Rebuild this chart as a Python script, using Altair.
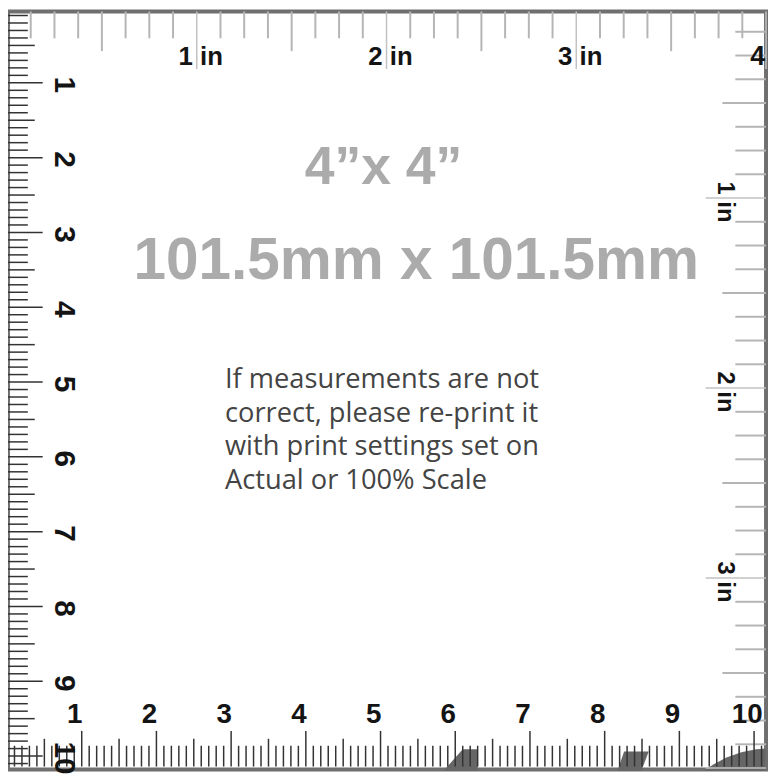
import altair as alt
import pandas as pd

MM_PER_INCH = 25.4

# ---- data -------------------------------------------------------------
INCH_EIGHTHS = list(range(1, 33))      # graduations of the inch rulers (top, right), in 1/8 in
MILLIMETRES = list(range(1, 102))      # graduations of the metric rulers (left, bottom), in mm

TOP_LABEL_TEXT = ["1 in", "2 in", "3 in"]
TOP_LABEL_INCH = [1, 2, 3]
CORNER_LABEL_TEXT = ["4"]
CORNER_LABEL_INCH = [4]
RIGHT_LABEL_TEXT = ["1 in", "2 in", "3 in"]
RIGHT_LABEL_INCH = [1, 2, 3]
CM_LABEL_TEXT = ["1", "2", "3", "4", "5", "6", "7", "8", "9", "10"]
CM_LABEL_CM = [1, 2, 3, 4, 5, 6, 7, 8, 9, 10]

TITLE_SIZE = ["4\u201dx 4\u201d"]
TITLE_MM = ["101.5mm x 101.5mm"]
NOTE_LINES = [
    "If measurements are not",
    "correct, please re-print it",
    "with print settings set on",
    "Actual or 100% Scale",
]

# dark decorative shapes along the bottom edge (mm)
SHAPE1_Y = [99.1, 102.0]
SHAPE1_XL = [61.0, 58.4]
SHAPE1_XR = [63.0, 63.0]
SHAPE2_Y = [99.4, 102.0]
SHAPE2_XL = [82.6, 81.7]
SHAPE2_XR = [85.9, 84.9]
ARC_X = [93.2, 94.6, 96.3, 98.3, 100.3, 101.5]
ARC_Y = [102.0, 101.1, 100.2, 99.5, 99.1, 99.0]
ARC_BOTTOM = [102.0, 102.0, 102.0, 102.0, 102.0, 102.0]

# ---- scales -----------------------------------------------------------
XS = alt.Scale(domain=[0, 101.6], range=[-1, 765], nice=False, zero=False)
YS = alt.Scale(domain=[0, 101.6], range=[-3.5, 763.5], nice=False, zero=False)

LIGHT = "#b5b5b5"
DARK = "#333333"
BOLD = "Liberation Sans, Arial, sans-serif"

def df_inch(cond):
    return pd.DataFrame({"mm": [k * MM_PER_INCH / 8 for k in INCH_EIGHTHS if cond(k)]})

def df_mm(cond):
    return pd.DataFrame({"mm": [float(k) for k in MILLIMETRES if cond(k)]})

eighth = df_inch(lambda k: k % 4 != 0)
half_in = df_inch(lambda k: k % 8 == 4)
whole_in = df_inch(lambda k: k % 8 == 0)
mm_t = df_mm(lambda k: k % 5 != 0)
half_cm = df_mm(lambda k: k % 10 == 5)
whole_cm = df_mm(lambda k: k % 10 == 0)

def top_rule(df, end, color=LIGHT, w=2):
    return alt.Chart(df).mark_rule(color=color, strokeWidth=w).encode(
        x=alt.X("mm:Q", scale=XS, axis=None), y=alt.value(0), y2=alt.value(end))

def right_rule(df, end, color=LIGHT, w=2):
    return alt.Chart(df).mark_rule(color=color, strokeWidth=w).encode(
        y=alt.Y("mm:Q", scale=YS, axis=None), x=alt.value(765), x2=alt.value(end))

def left_rule(df, end, color=DARK, w=1.5):
    return alt.Chart(df).mark_rule(color=color, strokeWidth=w).encode(
        y=alt.Y("mm:Q", scale=YS, axis=None), x=alt.value(0), x2=alt.value(end))

def bottom_rule(df, end, color=DARK, w=1.5):
    return alt.Chart(df).mark_rule(color=color, strokeWidth=w).encode(
        x=alt.X("mm:Q", scale=XS, axis=None), y=alt.value(762), y2=alt.value(end))

shape_color = "#666666"
s1 = alt.Chart(pd.DataFrame({"y": SHAPE1_Y, "xl": SHAPE1_XL, "xr": SHAPE1_XR})).mark_area(
    orient="horizontal", color=shape_color).encode(
    y=alt.Y("y:Q", scale=YS, axis=None), x=alt.X("xl:Q", scale=XS, axis=None), x2="xr:Q")
s2 = alt.Chart(pd.DataFrame({"y": SHAPE2_Y, "xl": SHAPE2_XL, "xr": SHAPE2_XR})).mark_area(
    orient="horizontal", color=shape_color).encode(
    y=alt.Y("y:Q", scale=YS, axis=None), x=alt.X("xl:Q", scale=XS, axis=None), x2="xr:Q")
s3 = alt.Chart(pd.DataFrame({"x": ARC_X, "y": ARC_Y, "yb": ARC_BOTTOM})).mark_area(
    color=shape_color).encode(
    x=alt.X("x:Q", scale=XS, axis=None), y=alt.Y("y:Q", scale=YS, axis=None), y2="yb:Q")

ticks = [
    top_rule(eighth, 27), top_rule(half_in, 40), top_rule(whole_in, 58, "#c2c2c2", 1.5),
    right_rule(eighth, 734), right_rule(half_in, 721), right_rule(whole_in, 704, "#c2c2c2", 1.5),
    left_rule(mm_t, 20), left_rule(half_cm, 27), left_rule(whole_cm, 35),
    bottom_rule(mm_t, 741), bottom_rule(half_cm, 734), bottom_rule(whole_cm, 726),
]

lab_font = dict(font=BOLD, fontWeight="bold", color="#141414")

top_labels = alt.Chart(pd.DataFrame({
    "mm": [v * MM_PER_INCH for v in TOP_LABEL_INCH], "t": TOP_LABEL_TEXT})).mark_text(
    fontSize=26, align="center", baseline="alphabetic", dx=4, **lab_font).encode(
    x=alt.X("mm:Q", scale=XS, axis=None), y=alt.value(54), text="t:N")
corner_label = alt.Chart(pd.DataFrame({
    "mm": [v * MM_PER_INCH for v in CORNER_LABEL_INCH], "t": CORNER_LABEL_TEXT})).mark_text(
    fontSize=27, align="right", baseline="alphabetic", dx=-1, **lab_font).encode(
    x=alt.X("mm:Q", scale=XS, axis=None), y=alt.value(54), text="t:N")
right_labels = alt.Chart(pd.DataFrame({
    "mm": [v * MM_PER_INCH for v in RIGHT_LABEL_INCH], "t": RIGHT_LABEL_TEXT})).mark_text(
    fontSize=24, angle=90, align="center", baseline="middle", dx=4, dy=-8, **lab_font).encode(
    y=alt.Y("mm:Q", scale=YS, axis=None), x=alt.value(716), text="t:N")
left_labels = alt.Chart(pd.DataFrame({
    "mm": [v * 10.0 for v in CM_LABEL_CM], "t": CM_LABEL_TEXT})).mark_text(
    fontSize=30, angle=90, align="center", baseline="middle", dx=2, dy=-1, **lab_font).encode(
    y=alt.Y("mm:Q", scale=YS, axis=None), x=alt.value(55), text="t:N")
bottom_labels = alt.Chart(pd.DataFrame({
    "mm": [v * 10.0 for v in CM_LABEL_CM], "t": CM_LABEL_TEXT})).mark_text(
    fontSize=28, align="center", baseline="alphabetic", dx=-7, **lab_font).encode(
    x=alt.X("mm:Q", scale=XS, axis=None), y=alt.value(718), text="t:N")

title1 = alt.Chart(pd.DataFrame({"t": TITLE_SIZE})).mark_text(
    font=BOLD, fontWeight="bold", fontSize=54, color="#ababab", align="center",
    baseline="alphabetic").encode(x=alt.value(379), y=alt.value(174), text="t:N")
title2 = alt.Chart(pd.DataFrame({"t": TITLE_MM})).mark_text(
    font=BOLD, fontWeight="bold", fontSize=59, color="#ababab", align="center",
    baseline="alphabetic").encode(x=alt.value(412), y=alt.value(270), text="t:N")
note = alt.Chart(pd.DataFrame({"k": [0]})).mark_text(
    font="Open Sans", fontSize=27.5, color="#444444", align="left", baseline="alphabetic",
    lineHeight=34).encode(x=alt.value(219), y=alt.value(380), text=alt.value(NOTE_LINES))

chart = alt.layer(s1, s2, s3, *ticks, top_labels, corner_label, right_labels, left_labels,
                  bottom_labels, title1, title2, note).properties(
    width=765, height=765,
    autosize=alt.AutoSizeParams(type="none"),
    padding={"left": 0, "top": 0, "right": 3, "bottom": 2},
    background="white",
).configure_view(stroke="#6f6f6f", strokeWidth=4)

chart.save("out.html", embed_options={"renderer": "svg", "actions": False})
